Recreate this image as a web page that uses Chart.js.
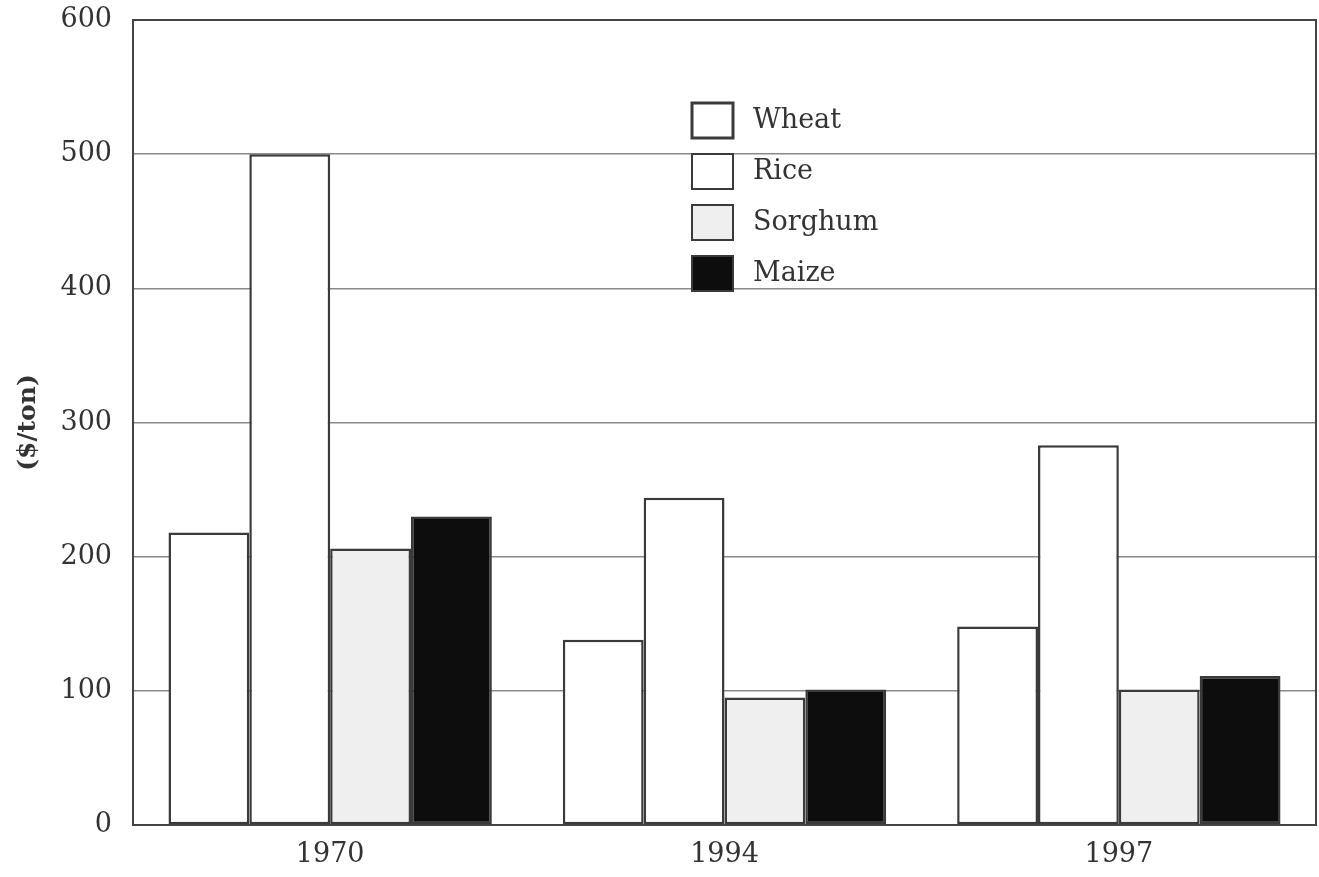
<!DOCTYPE html>
<html lang="en">
<head>
  <meta charset="UTF-8">
  <title>Grain prices ($/ton)</title>
  <style>
    html, body { margin: 0; padding: 0; background: #fff; }
    #wrap { width: 1319px; height: 877px; position: relative; }
  </style>
  <script src="https://cdn.jsdelivr.net/npm/chart.js"></script>
</head>
<body>
<div id="wrap"><canvas id="grainChart"></canvas></div>
<script>
  // data
  const years = ['1970', '1994', '1997'];
  const wheat = [218, 138, 148];
  const rice = [500, 244, 283];
  const sorghum = [206, 95, 101];
  const maize = [230, 101, 111];
  const seriesNames = ['Wheat', 'Rice', 'Sorghum', 'Maize'];

  const edge = '#3a3a3a';
  const fills = ['#ffffff', '#ffffff', '#efefef', '#0d0d0d'];
  const serif = '"DejaVu Serif", "Liberation Serif", serif';

  // frame round the plot area + legend drawn inside it
  const framePlugin = {
    id: 'frame',
    afterDatasetsDraw(chart) {
      const { ctx, chartArea: a } = chart;
      ctx.save();
      ctx.strokeStyle = '#444';
      ctx.lineWidth = 2;
      ctx.strokeRect(a.left, a.top, a.right - a.left, a.bottom - a.top);

      // legend
      const x0 = 692, y0 = 103, step = 51;
      ctx.font = '27px ' + serif;
      ctx.textBaseline = 'middle';
      chart.data.datasets.forEach((ds, i) => {
        const y = y0 + i * step;
        ctx.fillStyle = ds.backgroundColor;
        ctx.fillRect(x0, y, 41, 35);
        ctx.strokeStyle = edge;
        ctx.lineWidth = i === 0 ? 3 : 2;
        ctx.strokeRect(x0, y, 41, 35);
        ctx.fillStyle = '#333';
        ctx.fillText(ds.label, 753, y + 18);
      });
      ctx.restore();
    }
  };

  const datasets = [wheat, rice, sorghum, maize].map((vals, i) => ({
    label: seriesNames[i],
    data: vals,
    backgroundColor: fills[i],
    borderColor: edge,
    borderWidth: 2.5,
    borderSkipped: false,
    categoryPercentage: 0.82,
    barPercentage: 1.0
  }));

  new Chart(document.getElementById('grainChart'), {
    type: 'bar',
    data: { labels: years, datasets: datasets },
    options: {
      responsive: true,
      maintainAspectRatio: false,
      animation: false,
      layout: { padding: { top: 20, right: 3, bottom: 8, left: 13 } },
      plugins: {
        legend: { display: false },
        tooltip: { enabled: false }
      },
      scales: {
        x: {
          grid: { display: false },
          border: { color: '#444', width: 2 },
          ticks: { color: '#333', font: { family: serif, size: 27 }, padding: 6 },
          afterFit(scale) { scale.height = 44; }
        },
        y: {
          min: 0,
          max: 600,
          ticks: { stepSize: 100, color: '#333', font: { family: serif, size: 27 }, padding: 21 },
          grid: { color: '#8a8a8a', lineWidth: 1.5, drawTicks: false },
          border: { color: '#444', width: 2 },
          title: {
            display: true,
            text: '($/ton)',
            color: '#333',
            font: { family: serif, size: 25, weight: 'bold' },
            padding: { top: 0, bottom: 10 }
          },
          afterFit(scale) {
            scale.width = 120;
            scale.paddingTop = 0;
            scale.paddingBottom = 0;
          }
        }
      }
    },
    plugins: [framePlugin]
  });
</script>
</body>
</html>
